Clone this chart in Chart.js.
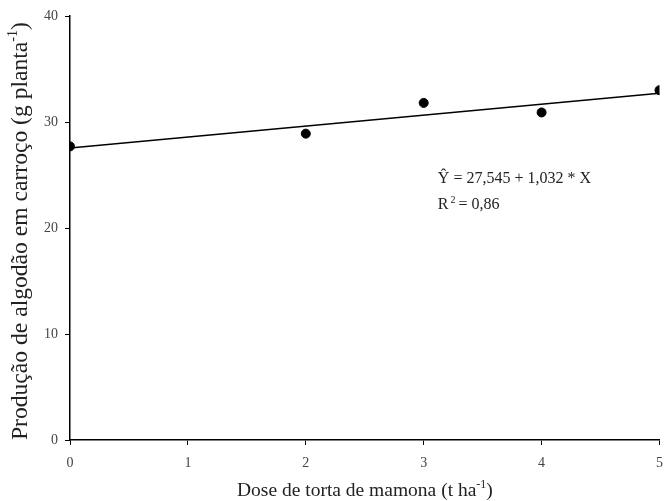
<!DOCTYPE html>
<html>
<head>
<meta charset="utf-8">
<script src="https://cdn.jsdelivr.net/npm/chart.js@4/dist/chart.umd.min.js"></script>
<style>
  html, body { margin: 0; padding: 0; background: #fff; }
  #wrap { width: 665px; height: 501px; }
</style>
</head>
<body>
<div id="wrap"><canvas id="myChart"></canvas></div>
<script>
// data
const doses = [0, 2, 3, 4, 5];
const producao = [27.7, 28.9, 31.8, 30.9, 33.0];
const xTicks = [0, 1, 2, 3, 4, 5];
const yTicks = [0, 10, 20, 30, 40];

// fitted model: Y = 27,545 + 1,032 * X
const intercept = 27.545;
const slope = 1.032;
const r2 = '0,86';

const serif = "'Liberation Serif', 'Times New Roman', serif";

// regression line over the dose range
const fitLine = [xTicks[0], xTicks[xTicks.length - 1]].map(x => ({ x: x, y: intercept + slope * x }));

// custom axis titles and equation text (need superscripts)
const textPlugin = {
    id: 'textPlugin',
    afterDraw(chart) {
        const ctx = chart.ctx;
        const xs = chart.scales.x, ys = chart.scales.y;
        ctx.save();
        ctx.fillStyle = '#222';
        ctx.textBaseline = 'alphabetic';

        // x title
        const xMain = 'Dose de torta de mamona (t ha';
        ctx.font = '19.5px ' + serif;
        const w1 = ctx.measureText(xMain).width;
        ctx.font = '12px ' + serif;
        const w2 = ctx.measureText('-1').width;
        let x0 = 237;
        const yb = 496;
        ctx.font = '19.5px ' + serif;
        ctx.fillText(xMain, x0, yb);
        ctx.font = '12px ' + serif;
        ctx.fillText('-1', x0 + w1, yb - 8);
        ctx.font = '19.5px ' + serif;
        ctx.fillText(')', x0 + w1 + w2, yb);

        // y title, rotated
        ctx.save();
        ctx.translate(27, 440);
        ctx.rotate(-Math.PI / 2);
        const yMain = 'Produção de algodão em carroço (g planta';
        ctx.font = '23.6px ' + serif;
        const v1 = ctx.measureText(yMain).width;
        ctx.font = '14px ' + serif;
        const v2 = ctx.measureText('-1').width;
        ctx.font = '23.6px ' + serif;
        ctx.fillText(yMain, 0, 0);
        ctx.font = '14px ' + serif;
        ctx.fillText('-1', v1, -10);
        ctx.font = '23.6px ' + serif;
        ctx.fillText(')', v1 + v2, 0);
        ctx.restore();

        // equation
        const ex = xs.getPixelForValue(3.12);
        const ey = ys.getPixelForValue(24.2);
        ctx.font = '16px ' + serif;
        ctx.fillText('\u0176 = 27,545 + 1,032 * X', ex, ey);
        ctx.fillText('R', ex, ey + 26);
        const rw = ctx.measureText('R').width;
        ctx.font = '10px ' + serif;
        ctx.fillText('2', ex + rw + 2, ey + 20);
        ctx.font = '16px ' + serif;
        ctx.fillText('= ' + r2, ex + rw + 10, ey + 26);
        ctx.restore();
    }
};

const ctx = document.getElementById('myChart').getContext('2d');
new Chart(ctx, {
    type: 'scatter',
    data: {
        datasets: [
            {
                type: 'line',
                label: 'Ajuste',
                data: fitLine,
                borderColor: '#000',
                borderWidth: 1.6,
                pointRadius: 0,
                fill: false,
                order: 2
            },
            {
                label: 'Observado',
                data: doses.map((d, i) => ({ x: d, y: producao[i] })),
                backgroundColor: '#000',
                borderColor: '#000',
                pointRadius: 4.5,
                order: 1
            }
        ]
    },
    options: {
        responsive: true,
        maintainAspectRatio: false,
        animation: false,
        layout: { padding: { top: 16, right: 0, left: 0, bottom: 0 } },
        plugins: { legend: { display: false }, tooltip: { enabled: false } },
        scales: {
            x: {
                type: 'linear',
                min: 0, max: 5,
                afterBuildTicks: s => { s.ticks = xTicks.map(v => ({ value: v })); },
                afterFit: s => { s.height = 61; s.paddingRight = 0; s.paddingLeft = 0; },
                grid: { drawOnChartArea: false, drawTicks: true, tickLength: 5, color: '#000' },
                border: { color: '#000', width: 1.5 },
                ticks: { color: '#444', padding: 10, font: { family: serif, size: 14 } }
            },
            y: {
                min: 0, max: 40,
                afterBuildTicks: s => { s.ticks = yTicks.map(v => ({ value: v })); },
                afterFit: s => { s.width = 70; s.paddingTop = 0; s.paddingBottom = 0; },
                grid: { drawOnChartArea: false, drawTicks: true, tickLength: 5, color: '#000' },
                border: { color: '#000', width: 1.5 },
                ticks: { color: '#444', padding: 7, font: { family: serif, size: 14 } }
            }
        }
    },
    plugins: [textPlugin]
});
</script>
</body>
</html>
